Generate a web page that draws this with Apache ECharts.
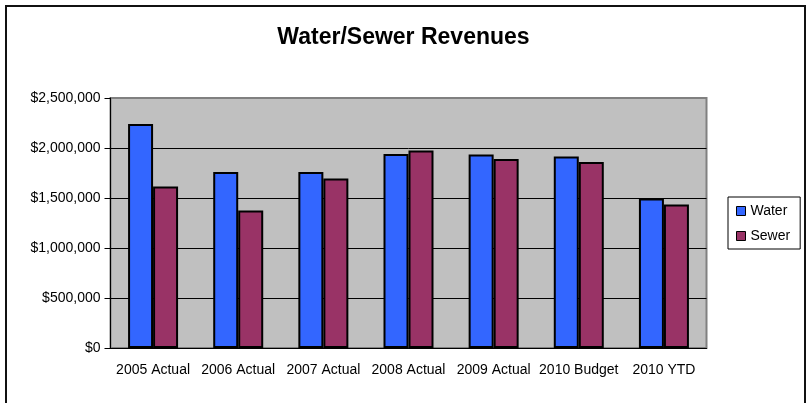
<!DOCTYPE html>
<html>
<head>
<meta charset="utf-8">
<title>Water/Sewer Revenues</title>
<script src="https://cdn.jsdelivr.net/npm/echarts@6/dist/echarts.min.js"></script>
<style>
  html, body { margin: 0; padding: 0; background: #fff; }
  #frame {
    position: absolute; left: 5px; top: 5px; width: 801px; height: 500px;
    box-sizing: border-box; border: 2px solid #111;
  }
  #chart { position: absolute; left: 0; top: 0; width: 807px; height: 403px; }
</style>
</head>
<body>
<div id="frame"></div>
<div id="chart"></div>
<script>
// values
const categories = ['2005 Actual', '2006 Actual', '2007 Actual', '2008 Actual', '2009 Actual', '2010 Budget', '2010 YTD']
const water = [2240000, 1760000, 1760000, 1940000, 1935000, 1915000, 1495000]
const sewer = [1615000, 1375000, 1695000, 1975000, 1890000, 1860000, 1435000]

const font = 'Liberation Sans, Arial, sans-serif'

const chart = echarts.init(document.getElementById('chart'))

const option = {
  animation: false,
  textStyle: { fontFamily: font, color: '#000' },
  title: {
    text: 'Water/Sewer Revenues',
    left: 'center',
    top: 21,
    textStyle: { fontFamily: font, fontSize: 23, fontWeight: 'bold', color: '#000' }
  },
  legend: {
    orient: 'vertical',
    left: 728,
    top: 197,
    padding: [7, 10, 6, 8],
    itemGap: 11,
    itemWidth: 9,
    itemHeight: 9,
    icon: 'rect',
    borderColor: '#000',
    borderWidth: 1,
    itemStyle: { borderColor: '#000', borderWidth: 1 },
    textStyle: { fontFamily: font, fontSize: 14, color: '#000' },
    data: ['Water', 'Sewer']
  },
  grid: {
    left: 110.5,
    right: 100.5,
    top: 98,
    bottom: 55,
    show: true,
    backgroundColor: '#c0c0c0',
    borderColor: '#808080',
    borderWidth: 2
  },
  xAxis: {
    type: 'category',
    data: categories,
    axisLine: { lineStyle: { color: '#000', width: 1 } },
    axisTick: { length: 5, lineStyle: { color: '#000' } },
    axisLabel: { fontFamily: font, fontSize: 14, color: '#000', margin: 15, interval: 0 }
  },
  yAxis: {
    type: 'value',
    min: 0,
    max: 2500000,
    interval: 500000,
    axisLine: { show: true, lineStyle: { color: '#000', width: 1 } },
    axisTick: { show: true, length: 6, lineStyle: { color: '#000' } },
    axisLabel: {
      fontFamily: font, fontSize: 14, color: '#000', margin: 10,
      formatter: v => '$' + v.toLocaleString('en-US')
    },
    splitLine: { show: true, showMaxLine: false, lineStyle: { color: '#000', width: 1 } }
  },
  series: [
    {
      name: 'Water',
      type: 'bar',
      data: water,
      barWidth: 25,
      barGap: '0%',
      itemStyle: { color: '#3366ff', borderColor: '#000', borderWidth: 2 }
    },
    {
      name: 'Sewer',
      type: 'bar',
      data: sewer,
      barWidth: 25,
      barGap: '0%',
      itemStyle: { color: '#993366', borderColor: '#000', borderWidth: 2 }
    }
  ]
}

chart.setOption(option)
</script>
</body>
</html>
